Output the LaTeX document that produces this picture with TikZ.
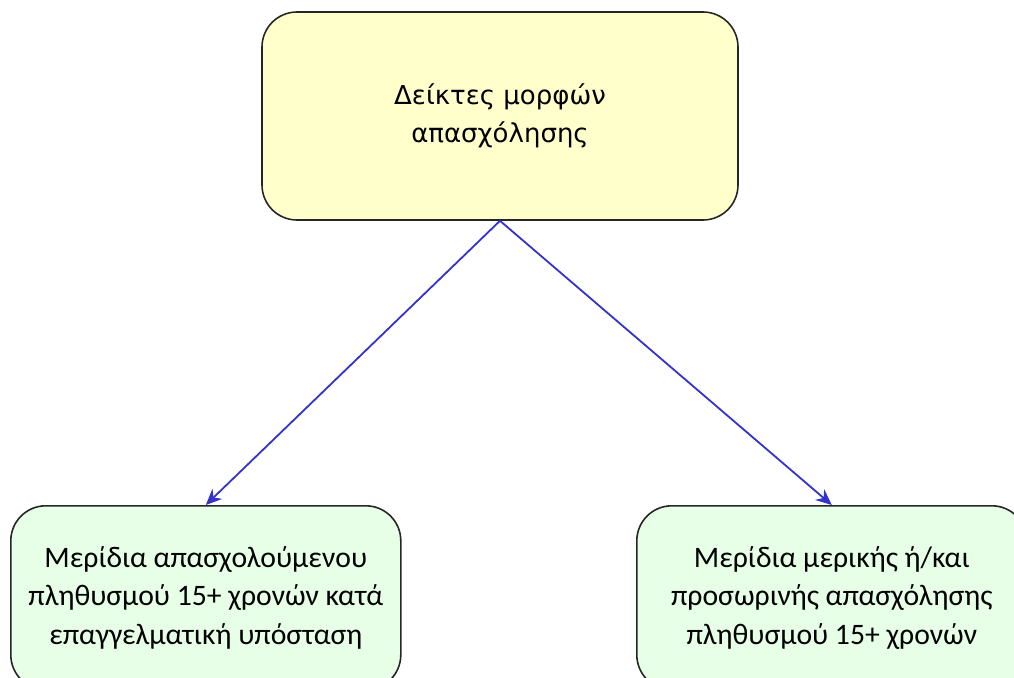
\documentclass[tikz,border=0pt]{standalone}
\usepackage{fontspec}
\setmainfont{Carlito}
\newfontfamily\rootfont{DejaVu Sans}
\usetikzlibrary{arrows.meta,positioning}
\definecolor{rootfill}{RGB}{255,255,204}
\definecolor{leaffill}{RGB}{230,255,230}
\definecolor{linkblue}{RGB}{51,51,204}

\begin{document}
\begin{tikzpicture}[
    x=1pt, y=1pt,
    box/.style={rectangle, rounded corners=35pt, draw=black!85,
                line width=1.6pt, align=center, inner sep=0pt},
    rootbox/.style={box, fill=rootfill, minimum width=476pt,
                    minimum height=208pt,
                    font=\rootfont\fontsize{26}{38}\selectfont},
    leafbox/.style={box, fill=leaffill, minimum width=390pt,
                    minimum height=184pt,
                    font=\fontsize{29.7}{38.5}\selectfont},
    link/.style={-{Stealth[length=16pt, width=14pt]}, linkblue,
                 line width=1.8pt}
  ]
  \useasboundingbox (0,0) rectangle (1014,-677);

  %% Root
  \node[rootbox] (root) at (500,-116) {Δείκτες μορφών\\απασχόλησης};

  %% Leaves
  \node[leafbox, anchor=north west] (share) at (10,-505)
        {Μερίδια απασχολούμενου\\πληθυσμού 15+ χρονών κατά\\επαγγελματική υπόσταση};
  \node[leafbox, anchor=north west] (part) at (636,-505)
        {Μερίδια μερικής ή/και\\προσωρινής απασχόλησης\\πληθυσμού 15+ χρονών};

  %% Links
  \draw[link] (root.south) -- (share.north);
  \draw[link] (root.south) -- (part.north);

\end{tikzpicture}
\end{document}
